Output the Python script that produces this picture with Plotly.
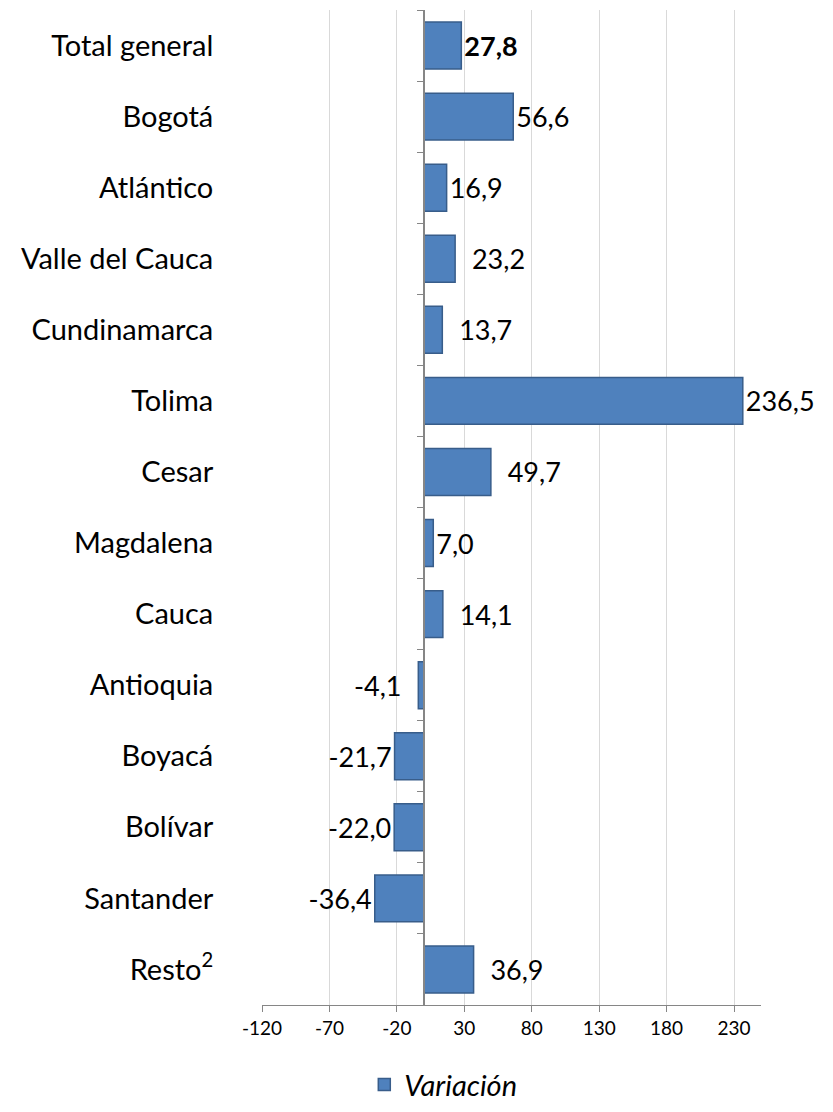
import plotly.graph_objects as go

regiones = ['Total general', 'Bogotá', 'Atlántico', 'Valle del Cauca', 'Cundinamarca',
            'Tolima', 'Cesar', 'Magdalena', 'Cauca', 'Antioquia', 'Boyacá', 'Bolívar',
            'Santander', 'Resto<sup>2</sup>']
# bar lengths as drawn (the Bogotá bar is drawn longer than its label says)
barras = [27.8, 66.3, 16.9, 23.2, 13.7, 236.5, 49.7, 7.0, 14.1, -4.1, -21.7, -22.0, -36.4, 36.9]
etiquetas = ['<b>27,8</b>', '56,6', '16,9', '23,2', '13,7', '236,5', '49,7', '7,0', '14,1',
             '-4,1', '-21,7', '-22,0', '-36,4', '36,9']
# labels that sit a bit further from their bar in the original
separadas = ['23,2', '13,7', '49,7', '14,1', '36,9', '-4,1']
x_ticks = [-120, -70, -20, 30, 80, 130, 180, 230]
x_ticktext = ['-120', '-70', '-20', '30', '80', '130', '180', '230']
x_range = [-120, 250]

FONT = 'Lato'
PAD = '\u00a0\u00a0'

textos = []
for t in etiquetas:
    if t in separadas:
        t = t + PAD if t.startswith('-') else PAD + t
    textos.append(t)

fig = go.Figure(go.Bar(
    x=barras, y=regiones, orientation='h', name='Variación',
    marker=dict(color='#4F81BD', line=dict(color='#385D8A', width=1.5)),
    text=textos, textposition='outside', cliponaxis=False,
    textfont=dict(family=FONT, size=27, color='black'),
))

# category axis sits on the zero line
zero_pos = (0 - x_range[0]) / (x_range[1] - x_range[0])

# margins allow for the 8px page margin around the plot div
fig.update_layout(
    width=833, height=1112,
    paper_bgcolor='white', plot_bgcolor='white',
    margin=dict(l=254, r=80, t=2, b=115),
    bargap=0.34,
    showlegend=True,
    legend=dict(orientation='h', x=0.205, xanchor='left', y=-0.08, yanchor='middle',
                font=dict(family=FONT, size=29, color='black', style='italic')),
    xaxis=dict(range=x_range, tickvals=x_ticks, ticktext=x_ticktext, automargin=False,
               showgrid=True, gridcolor='#D9D9D9', gridwidth=1, zeroline=False,
               showline=True, linecolor='#868686',
               ticks='outside', ticklen=6, tickcolor='#868686',
               tickfont=dict(family=FONT, size=19, color='black')),
    yaxis=dict(autorange='reversed', anchor='free', position=zero_pos, automargin=False,
               showline=True, linecolor='#868686', linewidth=1.5,
               ticks='outside', tickson='boundaries', ticklen=6, tickcolor='#868686',
               showgrid=False, ticklabelstandoff=204,
               tickfont=dict(family=FONT, size=29, color='black')),
)

fig.write_html('out.html')
